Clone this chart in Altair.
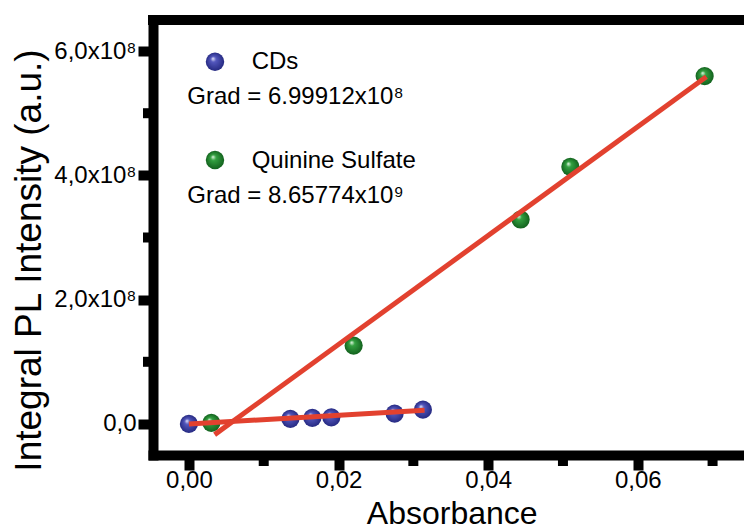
import altair as alt
import pandas as pd

# ---- data ----
cd_abs = [0.0, 0.01356, 0.01650, 0.01904, 0.02750, 0.03128]
cd_pl = [0.0, 8.1e6, 9.7e6, 1.06e7, 1.66e7, 2.30e7]
qs_abs = [0.0030, 0.02202, 0.04434, 0.05099, 0.06894]
qs_pl = [1.6e6, 1.261e8, 3.29e8, 4.138e8, 5.597e8]
cd_fit_abs = [0.0, 0.0315]
cd_fit_pl = [0.0, 2.19e7]
qs_fit_abs = [0.00344, 0.06917]
qs_fit_pl = [-1.72e7, 5.588e8]
x_major = [0.0, 0.02, 0.04, 0.06]
x_minor = [0.01, 0.03, 0.05, 0.07]
y_major = [0.0, 2e8, 4e8, 6e8]
y_minor = [1e8, 3e8, 5e8]
legend_names = ["CDs", "Quinine Sulfate"]
legend_grads = ["Grad = 6.99912x10\u2078", "Grad = 8.65774x10\u2079"]

FONT = "Liberation Sans"
W, H = 591, 435
RED = "#e2412f"

blue_grad = {"gradient": "radial", "x1": 0.38, "y1": 0.32, "r1": 0.0,
             "x2": 0.5, "y2": 0.5, "r2": 0.5,
             "stops": [{"offset": 0.0, "color": "#f0f0ff"},
                       {"offset": 0.3, "color": "#5357bd"},
                       {"offset": 1.0, "color": "#262a82"}]}
green_grad = {"gradient": "radial", "x1": 0.38, "y1": 0.32, "r1": 0.0,
              "x2": 0.5, "y2": 0.5, "r2": 0.5,
              "stops": [{"offset": 0.0, "color": "#eefcee"},
                        {"offset": 0.3, "color": "#33a040"},
                        {"offset": 1.0, "color": "#13621e"}]}

xscale = alt.Scale(domain=[-0.0048, 0.0742], nice=False, zero=False)
yscale = alt.Scale(domain=[-0.5e8, 6.5e8], nice=False, zero=False)

xaxis = alt.Axis(values=x_major, title="Absorbance",
                 labelExpr="replace(format(datum.value, '.2f'), '.', ',')",
                 tickSize=15, tickWidth=10, tickColor="black",
                 domainWidth=10, domainColor="black", domainCap="square",
                 labelFontSize=24, labelBaseline="alphabetic", labelPadding=17,
                 labelColor="black", labelFlush=False, labelOverlap=False,
                 titleFontSize=32, titleFontWeight="normal", titleColor="black",
                 titleX=298.7, titleY=68, titleBaseline="alphabetic", titleAlign="center",
                 grid=False)
yaxis = alt.Axis(values=y_major, title="Integral PL Intensity (a.u.)",
                 labelExpr="datum.value == 0 ? '0,0' : replace(format(datum.value / 1e8, '.1f'), '.', ',') + 'x10\u2078'",
                 tickSize=15, tickWidth=10, tickColor="black",
                 domainWidth=10, domainColor="black", domainCap="square",
                 labelFontSize=24, labelPadding=2, labelColor="black",
                 labelFlush=False, labelOverlap=False,
                 titleFontSize=37, titleFontWeight="normal", titleColor="black",
                 titleX=-113, titleY=240, titleAngle=270,
                 titleBaseline="alphabetic", titleAlign="center",
                 grid=False)

X = alt.X("x:Q", scale=xscale, axis=xaxis)
Y = alt.Y("y:Q", scale=yscale, axis=yaxis)

cd_df = pd.DataFrame({"x": cd_abs, "y": cd_pl})
qs_df = pd.DataFrame({"x": qs_abs, "y": qs_pl})
cdfit_df = pd.DataFrame({"x": cd_fit_abs, "y": cd_fit_pl})
qsfit_df = pd.DataFrame({"x": qs_fit_abs, "y": qs_fit_pl})

cd_pts = alt.Chart(cd_df).mark_circle(fill=blue_grad, size=330, opacity=1, strokeWidth=0).encode(x=X, y=Y)
qs_pts = alt.Chart(qs_df).mark_circle(fill=green_grad, size=330, opacity=1, strokeWidth=0).encode(x=X, y=Y)
cd_fit = alt.Chart(cdfit_df).mark_line(color=RED, strokeWidth=5, strokeCap="butt").encode(x=X, y=Y)
qs_fit = alt.Chart(qsfit_df).mark_line(color=RED, strokeWidth=5, strokeCap="butt").encode(x=X, y=Y)

# minor ticks
xminor = alt.Chart(pd.DataFrame({"x": x_minor})).mark_rule(color="black", strokeWidth=10).encode(
    x=X, y=alt.value(H), y2=alt.value(H + 11),
)
yminor = alt.Chart(pd.DataFrame({"y": y_minor})).mark_rule(color="black", strokeWidth=10).encode(
    y=Y, x=alt.value(-10), x2=alt.value(0),
)

# top frame line
top = alt.Chart(pd.DataFrame({"t": [0]})).mark_rule(color="black", strokeWidth=10, strokeCap="square").encode(
    x=alt.value(0), x2=alt.value(W), y=alt.value(0),
)

# in-plot key
def txt(s, px, py):
    return alt.Chart(pd.DataFrame({"t": [s]})).mark_text(
        align="left", baseline="alphabetic", fontSize=24, font=FONT, color="black"
    ).encode(text="t:N", x=alt.value(px), y=alt.value(py))

key_blue = alt.Chart(pd.DataFrame({"t": [legend_names[0]]})).mark_circle(
    fill=blue_grad, size=340, opacity=1, strokeWidth=0).encode(x=alt.value(62), y=alt.value(41.7))
key_green = alt.Chart(pd.DataFrame({"t": [legend_names[1]]})).mark_circle(
    fill=green_grad, size=340, opacity=1, strokeWidth=0).encode(x=alt.value(62), y=alt.value(140))

chart = alt.layer(
    cd_pts, qs_pts, cd_fit, qs_fit, xminor, yminor, top,
    key_blue, key_green,
    txt(legend_names[0], 98.7, 49.3),
    txt(legend_grads[0], 34.3, 84),
    txt(legend_names[1], 98.7, 148.3),
    txt(legend_grads[1], 34.3, 183.3),
).properties(
    width=W, height=H,
    autosize=alt.AutoSizeParams(type="none"),
    padding={"left": 153, "top": 20, "right": 0, "bottom": 77},
    background="white",
).configure(font=FONT).configure_view(stroke=None)

chart.save("out.html", embed_options={"renderer": "svg", "actions": False})
